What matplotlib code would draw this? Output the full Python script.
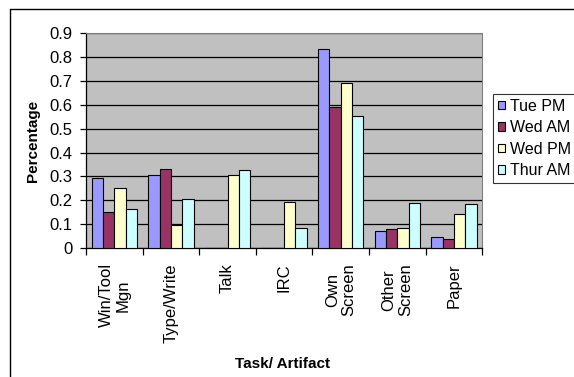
import numpy as np
import matplotlib.pyplot as plt
from matplotlib.lines import Line2D

plt.rcParams['font.family'] = ['Liberation Sans', 'DejaVu Sans']

categories = ['Win/Tool\nMgn', 'Type/Write', 'Talk', 'IRC', 'Own\nScreen', 'Other\nScreen', 'Paper']
series = ['Tue PM', 'Wed AM', 'Wed PM', 'Thur AM']
tue_pm = [0.295, 0.305, 0.0, 0.0, 0.835, 0.073, 0.046]
wed_am = [0.15, 0.33, 0.0, 0.0, 0.592, 0.078, 0.036]
wed_pm = [0.25, 0.095, 0.305, 0.195, 0.69, 0.082, 0.141]
thur_am = [0.165, 0.205, 0.325, 0.085, 0.555, 0.187, 0.183]
colors = ['#9999FF', '#993366', '#FFFFCC', '#CCFFFF']

fig = plt.figure(figsize=(5.74, 3.77), dpi=100)
ax = fig.add_axes([0.150, 0.342, 0.690, 0.570])
ax.set_facecolor('#C0C0C0')

x = np.arange(len(categories))
w = 0.2
for i, (vals, name) in enumerate(zip([tue_pm, wed_am, wed_pm, thur_am], series)):
    ax.bar(x - 0.3 + i * w, vals, w, color=colors[i], edgecolor='black',
           linewidth=0.8, label=name, zorder=3)

ax.set_xlim(-0.5, len(categories) - 0.5)
ax.set_ylim(0, 0.9)
ax.set_yticks(np.arange(0, 0.91, 0.1))
ax.set_yticklabels(['0'] + [f'{v:.1f}' for v in np.arange(0.1, 0.91, 0.1)], fontsize=12)
ax.yaxis.grid(True, color='black', linewidth=0.9, zorder=1)
ax.set_axisbelow(True)

ax.set_xticks(x)
ax.set_xticklabels(categories, rotation=90, fontsize=12, va='top', ha='center',
                   multialignment='center', linespacing=1.15)
ax.tick_params(axis='x', length=0, pad=11)
ax.set_xticks(np.arange(-0.5, len(categories), 1), minor=True)
ax.tick_params(axis='x', which='minor', length=5, direction='out', width=0.9)
ax.tick_params(axis='y', length=4.3, direction='out', width=0.9, pad=5.5)

for s in ['top', 'right']:
    ax.spines[s].set_color('#808080')
    ax.spines[s].set_linewidth(0.8)
for s in ['left', 'bottom']:
    ax.spines[s].set_color('black')
    ax.spines[s].set_linewidth(0.9)

ax.set_ylabel('Percentage', fontsize=11, fontweight='bold')
ax.yaxis.set_label_coords(-0.116, 0.5)
fig.text(0.493, 0.034, 'Task/ Artifact', fontsize=11, fontweight='bold',
         ha='center', va='center')

leg = fig.legend(loc='upper left', bbox_to_anchor=(493 / 574, 1 - 94 / 377), fontsize=11.5,
                 frameon=True, fancybox=False, edgecolor='black',
                 handlelength=0.45, handleheight=0.45, handletextpad=0.3,
                 borderpad=0.3, labelspacing=0.4, borderaxespad=0)
leg.get_frame().set_linewidth(0.8)

fig.add_artist(Line2D([10 / 574, 10 / 574, 1.0], [0.0, 1 - 9 / 377, 1 - 9 / 377],
                      transform=fig.transFigure, color='black', linewidth=1.0))

fig.savefig('out.png', dpi=100)
